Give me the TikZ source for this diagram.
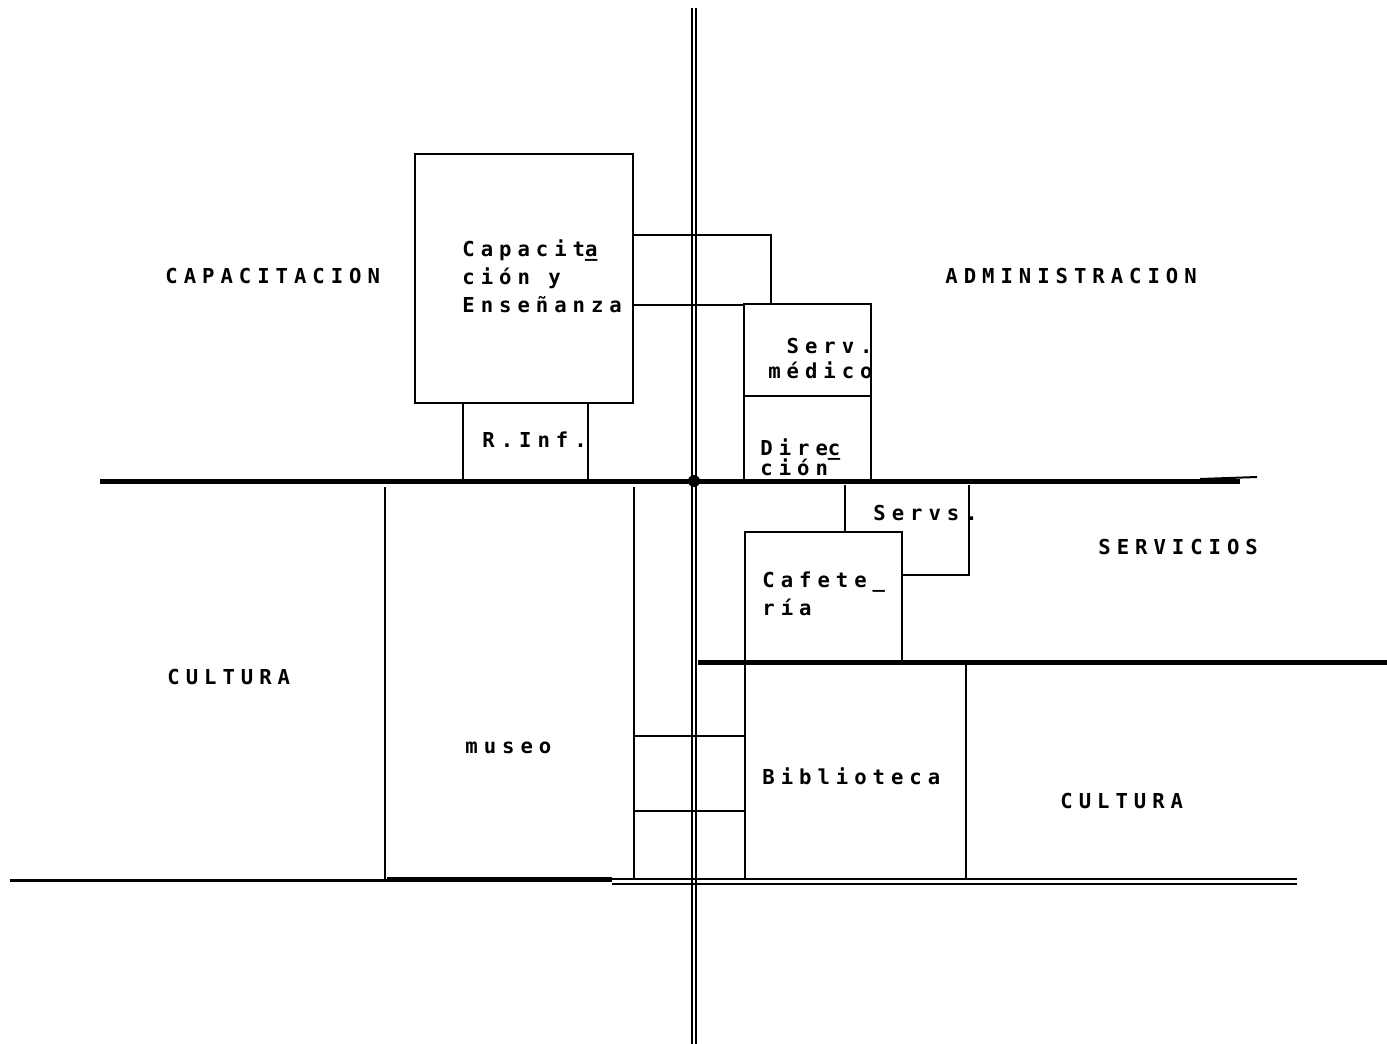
\documentclass[tikz,border=0pt]{standalone}
\usepackage{fontspec}
\newfontfamily\plotfont[LetterSpace=29]{DejaVu Sans Mono Bold}

\tikzset{
  wall/.style={line width=1pt},
  axis/.style={line width=2.5pt},
  zone/.style={font={\plotfont\fontsize{10.3}{14}\selectfont}, inner sep=0pt, anchor=base west, align=left},
}

\begin{document}
\begin{tikzpicture}[x=0.5pt,y=0.5pt,yscale=-1,xscale=1]
\useasboundingbox (0,0) rectangle (1387,1044);

%Straight Lines: main vertical axis (double)
\draw [wall] (692,8) -- (692,1044) ;
\draw [wall] (696,8) -- (696,1044) ;
%Straight Lines: upper horizontal axis
\draw [axis] (100,481) -- (1240,481) ;
\draw [wall] (1200,479) -- (1257,477) ;
%Straight Lines: middle horizontal axis
\draw [axis] (698,662) -- (1387,662) ;
%Straight Lines: lower horizontal axis
\draw [line width=1.5pt] (10,880) -- (612,880) ;
\draw [axis] (387,879) -- (612,879) ;
\draw [wall] (612,879) -- (1297,879) ;
\draw [wall] (612,884) -- (1297,884) ;
%Shape: Circle (crossing)
\fill (694,481) circle (6) ;

%Shape: Rectangle [capacitacion]
\draw [wall] (415,154) -- (633,154) -- (633,403) -- (415,403) -- cycle ;
%Straight Lines [r.inf]
\draw [wall] (463,403) -- (463,481) ;
\draw [wall] (588,403) -- (588,481) ;
%Straight Lines [link to serv. medico]
\draw [wall] (633,235) -- (771,235) -- (771,304) ;
\draw [wall] (633,305) -- (744,305) ;
%Shape: Rectangle [serv. medico + direccion]
\draw [wall] (744,481) -- (744,304) -- (871,304) -- (871,481) ;
\draw [wall] (744,396) -- (871,396) ;

%Straight Lines [museo]
\draw [wall] (385,487) -- (385,880) ;
\draw [wall] (634,487) -- (634,880) ;
\draw [wall] (634,736) -- (745,736) ;
\draw [wall] (634,811) -- (745,811) ;
%Straight Lines [servs]
\draw [wall] (845,485) -- (845,532) ;
\draw [wall] (969,485) -- (969,575) -- (902,575) ;
%Shape: Rectangle [cafeteria]
\draw [wall] (745,880) -- (745,532) -- (902,532) -- (902,662) ;
%Straight Lines [biblioteca]
\draw [wall] (966,662) -- (966,880) ;

% Text Node
\node [zone] (capac) at (165,283) {CAPACITACION};
% Text Node
\node [zone] (admin) at (945,283) {ADMINISTRACION};
% Text Node
\node [zone] (servi) at (1098,554) {SERVICIOS};
% Text Node
\node [zone] (cultl) at (167,684) {CULTURA};
% Text Node
\node [zone] (cultr) at (1060,808) {CULTURA};
% Text Node (multi-line: placed at last baseline)
\node [zone] (ensen) at (462,312) {Capacit\rlap{\_}a\\ción y\\Enseñanza};
% Text Node
\node [zone, anchor=base east, align=right] (medic) at (873,378) {Serv.\\[-1.5pt]médico};
% Text Node
\node [zone] (rinf) at (482,447) {R.Inf.};
% Text Node
\node [zone] (direc) at (760,475) {Dire\rlap{\_}c\\[-4pt]ción};
% Text Node
\node [zone] (servs) at (873,520) {Servs.};
% Text Node
\node [zone] (cafet) at (762,615) {Cafete\_\\ría};
% Text Node
\node [zone] (museo) at (465,753) {museo};
% Text Node
\node [zone] (bibli) at (762,784) {Biblioteca};

\end{tikzpicture}
\end{document}
